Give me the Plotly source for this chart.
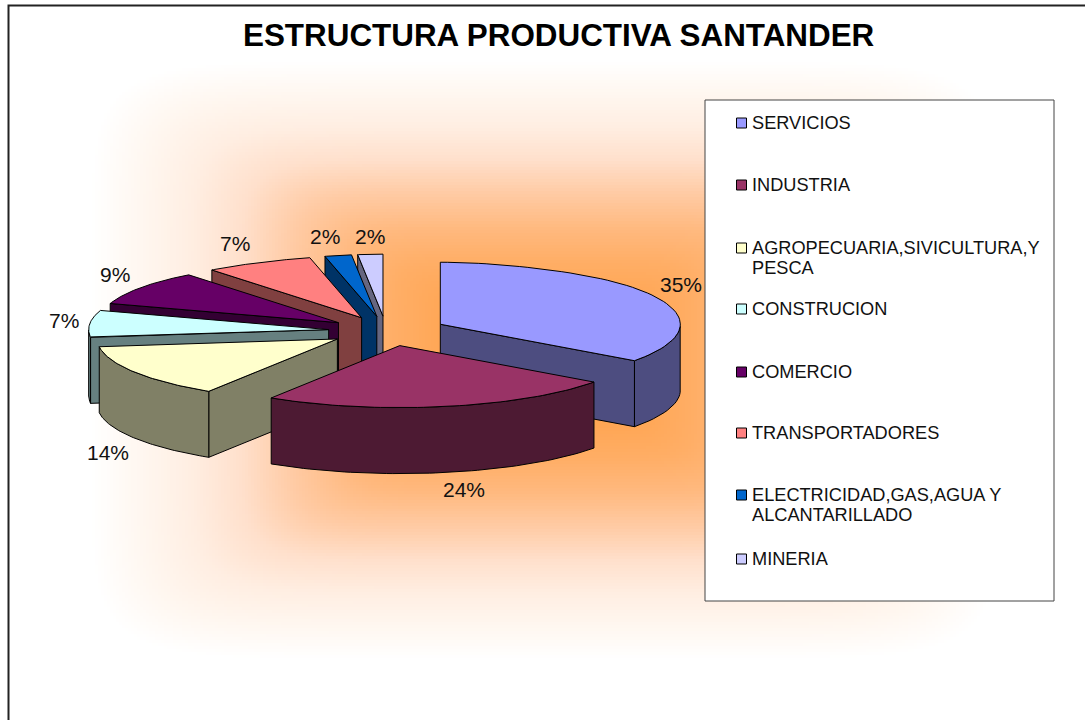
""" Estructura productiva Santander: exploded 3d pie drawn on pixel axes """

import numpy as np
from plotly import graph_objects as go

CATEGORIES = [
    "SERVICIOS",
    "INDUSTRIA",
    "AGROPECUARIA,SIVICULTURA,Y<br>PESCA",
    "CONSTRUCION",
    "COMERCIO",
    "TRANSPORTADORES",
    "ELECTRICIDAD,GAS,AGUA Y<br>ALCANTARILLADO",
    "MINERIA",
]
VALUES = [35, 24, 14, 7, 9, 7, 2, 2]
TOP_COLORS = ["#9999FF", "#993366", "#FFFFCC", "#CCFFFF", "#660066", "#FF8080", "#0066CC", "#CCCCFF"]
WALL_COLORS = ["#4D4D80", "#4D1A33", "#808066", "#668080", "#330033", "#804040", "#003366", "#666680"]
# label shift from the middle of each slice's rim, px
LABEL_SHIFTS = [(27, -12), (19, 83), (-27, 80), (-26, -3), (-25, -13), (-25, -19), (-13, -19), (0, -18)]
LEGEND_ROWS = [123, 185, 248, 309, 372, 433, 495, 559]

FONT = "Liberation Sans, Arial, sans-serif"
CX, CY = 386, 331
RX, RY = 240, 62
DEPTH = 66
EXPLODE = 0.24


def rim(angle):
    """Screen offset of a rim point, angle in degrees clockwise from 12 o'clock"""
    rad = np.radians(angle)
    # only the far end of the pie narrows with perspective
    narrow = 1 - 0.17 * np.clip(np.cos(rad), 0, 1) ** 8
    return RX * np.sin(rad) * narrow, -RY * np.cos(rad)


def polygon(xs, ys, color, name, line_color="black"):
    return go.Scatter(
        x=xs,
        y=ys,
        mode="lines",
        fill="toself",
        fillcolor=color,
        line=dict(color=line_color, width=1),
        name=name,
        hoverinfo="skip",
        showlegend=False,
    )


def background():
    """Rectangular path gradient behind the pie"""
    x = np.arange(0, 1086, 3)
    y = np.arange(0, 721, 3)
    gx, gy = np.meshgrid(x, y)
    dx = np.abs(gx - 545) / 455
    dy = np.abs(gy - 360) / 300
    z = np.clip((dx**8 + dy**8) ** (1 / 8), 0, 1)
    return go.Heatmap(
        x=x,
        y=y,
        z=z,
        zmin=0,
        zmax=1,
        showscale=False,
        hoverinfo="skip",
        colorscale=[
            [0, "#FF9C3C"],
            [0.2, "#FFA552"],
            [0.33, "#FFAE66"],
            [0.44, "#FFB97F"],
            [0.56, "#FFCBA5"],
            [0.67, "#FFE0CC"],
            [0.78, "#FFEEE2"],
            [0.89, "#FFF7F0"],
            [1, "#FFFFFF"],
        ],
    )


fig = go.Figure()
fig.add_trace(background())

ends = np.cumsum(VALUES) / np.sum(VALUES) * 360
starts = ends - np.array(VALUES) / np.sum(VALUES) * 360
annotations = []

# back slices first, the two big front slices last
for i in [7, 6, 5, 4, 3, 2, 0, 1]:
    start, end = starts[i], ends[i]
    mid = (start + end) / 2
    ex, ey = rim(mid)
    # the right hand slices sit a little further out
    ax, ay = CX + EXPLODE * ex + 3 * (mid < 180), CY + EXPLODE * ey

    angles = np.linspace(start, end, 60)
    rx, ry = rim(angles)
    rx, ry = ax + rx, ay + ry

    if np.sin(np.radians(start)) < 0:
        xs = [ax, rx[0], rx[0], ax, ax]
        ys = [ay, ry[0], ry[0] + DEPTH, ay + DEPTH, ay]
        fig.add_trace(polygon(xs, ys, WALL_COLORS[i], CATEGORIES[i]))
    if np.sin(np.radians(end)) > 0:
        xs = [ax, rx[-1], rx[-1], ax, ax]
        ys = [ay, ry[-1], ry[-1] + DEPTH, ay + DEPTH, ay]
        fig.add_trace(polygon(xs, ys, WALL_COLORS[i], CATEGORIES[i]))

    front = (angles >= 90) & (angles <= 270)
    if front.any():
        fx, fy = rx[front], ry[front]
        xs = np.concatenate([fx, fx[::-1], fx[:1]])
        ys = np.concatenate([fy, fy[::-1] + DEPTH, fy[:1]])
        fig.add_trace(polygon(xs, ys, WALL_COLORS[i], CATEGORIES[i]))

    xs = np.concatenate([[ax], rx, [ax]])
    ys = np.concatenate([[ay], ry, [ay]])
    fig.add_trace(polygon(xs, ys, TOP_COLORS[i], CATEGORIES[i]))

    shift = LABEL_SHIFTS[i]
    annotations.append(
        dict(
            x=ax + ex + shift[0],
            y=ay + ey + shift[1],
            text=f"{VALUES[i]}%",
            showarrow=False,
            font=dict(family=FONT, size=21, color="#111111"),
        )
    )

# legend: hand built so the row spacing and the wrapped lines match
fig.add_trace(polygon([705, 1054, 1054, 705, 705], [100, 100, 601, 601, 100], "white", "legend", "#444444"))
for i, label in enumerate(CATEGORIES):
    row_y = LEGEND_ROWS[i]
    fig.add_trace(
        go.Scatter(
            x=[741.5],
            y=[row_y],
            mode="markers",
            marker=dict(symbol="square", size=10, color=TOP_COLORS[i], line=dict(color="black", width=1)),
            hoverinfo="skip",
            showlegend=False,
        )
    )
    for k, part in enumerate(label.split("<br>")):
        annotations.append(
            dict(
                x=750,
                y=row_y + 20 * k,
                text=part,
                xanchor="left",
                showarrow=False,
                font=dict(family=FONT, size=18.2, color="#111111"),
            )
        )

annotations.append(
    dict(
        x=559,
        y=35,
        text="<b>ESTRUCTURA PRODUCTIVA SANTANDER</b>",
        showarrow=False,
        font=dict(family=FONT, size=31.4, color="black"),
    )
)

fig.update_layout(
    width=1085,
    height=720,
    margin=dict(l=0, r=0, t=0, b=0),
    paper_bgcolor="white",
    plot_bgcolor="white",
    xaxis=dict(range=[0, 1085], visible=False, fixedrange=True),
    yaxis=dict(range=[720, 0], visible=False, fixedrange=True),
    annotations=annotations,
    shapes=[
        dict(type="rect", x0=8.5, y0=5.5, x1=1100, y1=740, line=dict(color="#222222", width=2), layer="above"),
    ],
)

fig.write_html("out.html", config=dict(displayModeBar=False), post_script="document.body.style.margin='0';")
